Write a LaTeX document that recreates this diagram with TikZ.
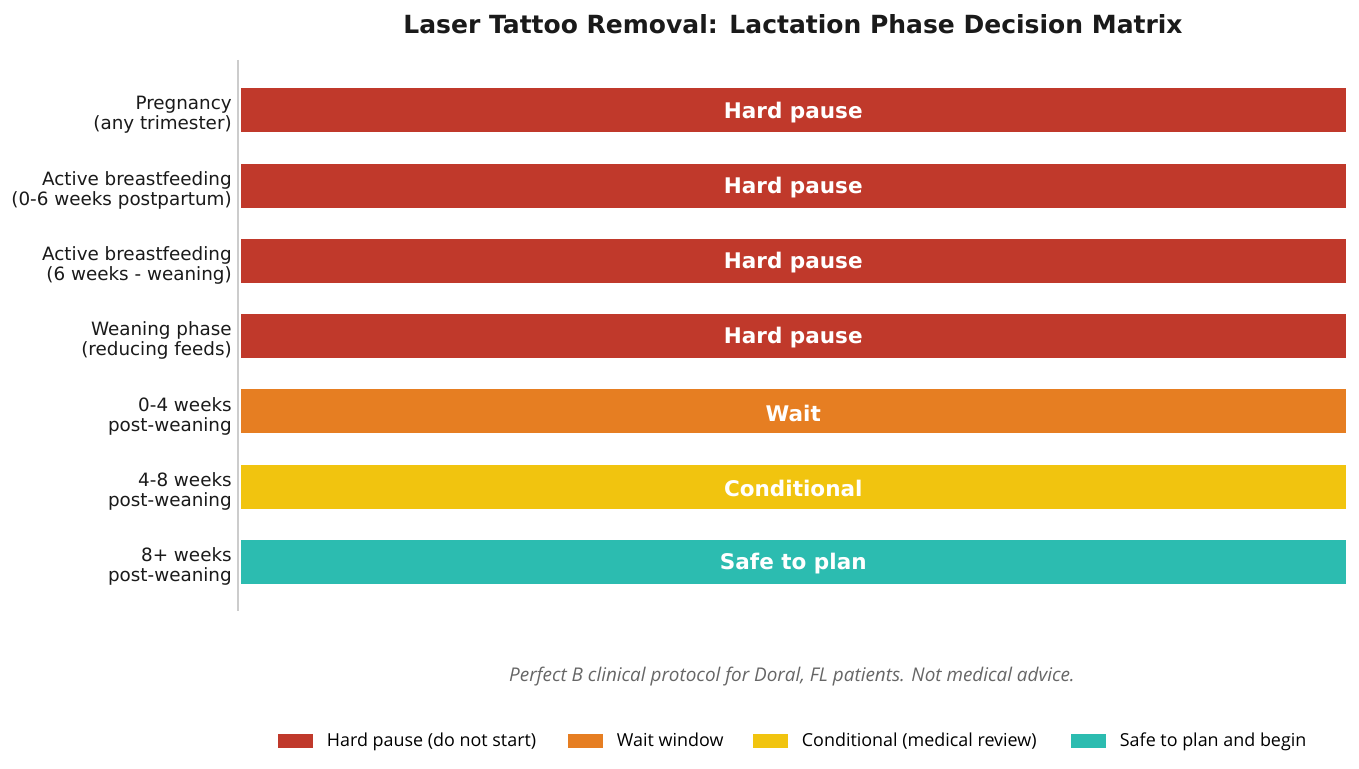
\documentclass[tikz,border=0pt]{standalone}
\usepackage{fontspec}
\setmainfont{DejaVu Sans}
\newfontfamily\notefont{Open Sans}
\usetikzlibrary{positioning}
\definecolor{LpdRed}{HTML}{C0392B}
\definecolor{LpdOrange}{HTML}{E67E22}
\definecolor{LpdYellow}{HTML}{F1C40F}
\definecolor{LpdTeal}{HTML}{2CBCB0}
\definecolor{LpdInk}{HTML}{1A1A1A}
\definecolor{LpdNote}{HTML}{666666}
\definecolor{LpdAxis}{HTML}{CCCCCC}
\tikzset{
  lpd/bar/.style={
    draw=white,
    line width=0.4pt,
    fill=#1,
    anchor=west,
    minimum width=796.3pt,
    minimum height=32.4pt,
    inner sep=0pt
  },
  lpd/bartext/.style={
    inner sep=0pt,
    text=white,
    font=\fontsize{15.5}{18}\selectfont\bfseries
  },
  lpd/label/.style={
    anchor=east,
    align=right,
    inner sep=0pt,
    text=LpdInk,
    font=\fontsize{13.2}{14.4}\selectfont
  },
  lpd/title/.style={font=\fontsize{18}{21}\selectfont\bfseries, text=LpdInk},
  lpd/note/.style={font=\notefont\fontsize{13.6}{16}\selectfont\itshape, text=LpdNote},
  lpd/swatch/.style={fill=#1, minimum width=25.2pt, minimum height=9.4pt, inner sep=0pt, anchor=west},
  lpd/key/.style={font=\notefont\fontsize{12.9}{15}\selectfont, text=black, anchor=west,
    inner sep=0pt, text height=0.72em, text depth=0.22em, yshift=-1.2pt}
}
\begin{document}
\begin{tikzpicture}[x=0.72pt,y=-0.72pt]
  \useasboundingbox[fill=white] (0,0) rectangle (1359,769);
  \node[lpd/title] (title) at (793,24) {Laser Tattoo Removal: Lactation Phase Decision Matrix};
  \coordinate (axtop) at (238,60);
  \coordinate (axbot) at (238,611);
  \draw[LpdAxis, line width=0.8pt] (axtop) -- (axbot);
  % one row per phase
  \foreach \i/\y/\col/\txt/\lbl in {
    1/110/LpdRed/Hard pause/{Pregnancy\\(any trimester)},
    2/185.3/LpdRed/Hard pause/{Active breastfeeding\\(0-6 weeks postpartum)},
    3/260.6/LpdRed/Hard pause/{Active breastfeeding\\(6 weeks - weaning)},
    4/335.9/LpdRed/Hard pause/{Weaning phase\\(reducing feeds)},
    5/411.2/LpdOrange/Wait/{0-4 weeks\\post-weaning},
    6/486.5/LpdYellow/Conditional/{4-8 weeks\\post-weaning},
    7/561.8/LpdTeal/Safe to plan/{8+ weeks\\post-weaning}}{
    \node[lpd/bar=\col] (bar\i) at (240,\y) {};
    \node[lpd/bartext] (txt\i) at ([yshift=-1.5pt]bar\i.center) {\txt};
    \node[lpd/label] (lbl\i) at (232,\y+5) {\lbl};
  }
  \node[lpd/note] (note) at (792,677) {Perfect B clinical protocol for Doral, FL patients. Not medical advice.};
  % legend
  \node[lpd/swatch=LpdRed] (sw1) at (278,741) {};
  \node[lpd/key, right=9.4pt of sw1] (key1) {Hard pause (do not start)};
  \node[lpd/swatch=LpdOrange] (sw2) at (568,741) {};
  \node[lpd/key, right=9.4pt of sw2] (key2) {Wait window};
  \node[lpd/swatch=LpdYellow] (sw3) at (753,741) {};
  \node[lpd/key, right=9.4pt of sw3] (key3) {Conditional (medical review)};
  \node[lpd/swatch=LpdTeal] (sw4) at (1071,741) {};
  \node[lpd/key, right=9.4pt of sw4] (key4) {Safe to plan and begin};
\end{tikzpicture}
\end{document}
